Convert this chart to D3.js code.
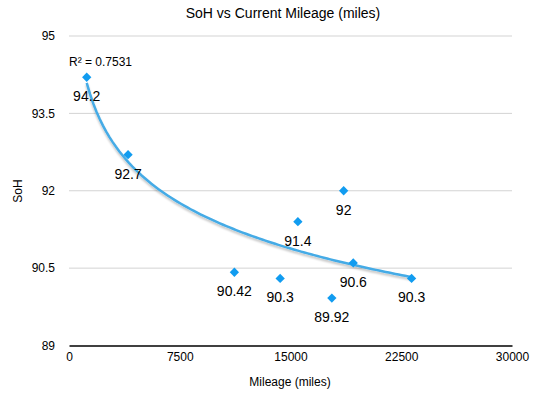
<!DOCTYPE html>
<html><head><meta charset="utf-8">
<script src="https://cdn.jsdelivr.net/npm/d3@7"></script>
<style>body{margin:0;background:#fff;} text{font-family:"Liberation Sans",Arial,Helvetica,sans-serif;}</style>
</head><body>
<svg id="c" width="553" height="408"></svg>
<script>
const mileage = [1200, 4000, 11200, 14300, 15500, 17800, 18600, 19250, 23200];
const soh     = [94.2, 92.7, 90.42, 90.3, 91.4, 89.92, 92, 90.6, 90.3];
const labels  = ["94.2","92.7","90.42","90.3","91.4","89.92","92","90.6","90.3"];
const xTicks = [0, 7500, 15000, 22500, 30000];
const yTicks = [89, 90.5, 92, 93.5, 95];
const r2Text = "R\u00B2 = 0.7531";

const svg = d3.select("#c");
const x = d3.scaleLinear().domain([0, 30000]).range([69, 512]);
const y = d3.scaleLinear().domain([89, 95]).range([345.5, 36]);

// grid
svg.append("g").selectAll("line").data(yTicks.filter(t => t !== 89)).join("line")
  .attr("x1", x(0)).attr("x2", x(30000))
  .attr("y1", d => y(d)).attr("y2", d => y(d))
  .attr("stroke", "#d3d3d3").attr("stroke-width", 1);

// x axis
const xAxis = d3.axisBottom(x).tickValues(xTicks).tickSize(0).tickPadding(7).tickFormat(d => String(d));
const gx = svg.append("g").attr("transform", `translate(0,${y(89)})`).call(xAxis);
gx.select(".domain").attr("stroke", "#000").attr("stroke-width", 1.5);
gx.selectAll("text").attr("font-size", 12).attr("fill", "#000")
  .attr("font-family", "Liberation Sans, Arial, sans-serif");

// y axis
const yAxis = d3.axisLeft(y).tickValues(yTicks).tickSize(0).tickPadding(14).tickFormat(d => String(d));
const gy = svg.append("g").attr("transform", `translate(${x(0)},0)`).call(yAxis);
gy.select(".domain").remove();
gy.selectAll("text").attr("font-size", 12).attr("fill", "#000")
  .attr("font-family", "Liberation Sans, Arial, sans-serif");

// title & axis titles
svg.append("text").attr("x", 283).attr("y", 18).attr("text-anchor", "middle")
  .attr("font-size", 14).text("SoH vs Current Mileage (miles)");
svg.append("text").attr("x", 290).attr("y", 386).attr("text-anchor", "middle")
  .attr("font-size", 12).text("Mileage (miles)");
svg.append("text").attr("transform", "translate(22,191) rotate(-90)").attr("text-anchor", "middle")
  .attr("font-size", 12).text("SoH");

// logarithmic trendline (least squares on ln x)
const n = mileage.length;
const lx = mileage.map(Math.log);
const mx = d3.mean(lx), my = d3.mean(soh);
let sxy = 0, sxx = 0;
for (let i = 0; i < n; i++) { sxy += (lx[i]-mx)*(soh[i]-my); sxx += (lx[i]-mx)**2; }
const b = sxy / sxx, a = my - b*mx;
const xmin = d3.min(mileage), xmax = d3.max(mileage);
const trend = d3.range(0, 101).map(i => { const xv = xmin + (xmax-xmin)*i/100; return [xv, a + b*Math.log(xv)]; });
const line = d3.line().x(d => x(d[0])).y(d => y(d[1])).curve(d3.curveLinear);

const defs = svg.append("defs");
const f = defs.append("filter").attr("id", "sh").attr("x", "-10%").attr("y", "-10%").attr("width", "120%").attr("height", "130%");
f.append("feGaussianBlur").attr("in", "SourceAlpha").attr("stdDeviation", 1.2).attr("result", "b");
f.append("feOffset").attr("in", "b").attr("dx", 0).attr("dy", 2).attr("result", "o");
f.append("feComponentTransfer").attr("in", "o").attr("result", "o2")
  .append("feFuncA").attr("type", "linear").attr("slope", 0.25);
const fm = f.append("feMerge");
fm.append("feMergeNode").attr("in", "o2");
fm.append("feMergeNode").attr("in", "SourceGraphic");

svg.append("path").datum(trend).attr("d", line).attr("fill", "none")
  .attr("stroke", "#45abe6").attr("stroke-width", 2.5).attr("filter", "url(#sh)");

svg.append("text").attr("x", 69).attr("y", 66).attr("font-size", 12).text(r2Text);

// points
const pts = mileage.map((m, i) => ({m, s: soh[i], l: labels[i]}));
svg.append("g").selectAll("path").data(pts).join("path")
  .attr("d", d3.symbol().type(d3.symbolDiamond2).size(55))
  .attr("transform", d => `translate(${x(d.m)},${y(d.s)})`)
  .attr("fill", "#119cf0");

svg.append("g").selectAll("text").data(pts).join("text")
  .attr("x", d => x(d.m)).attr("y", d => y(d.s) + 24)
  .attr("text-anchor", "middle").attr("font-size", 14).attr("fill", "#000")
  .text(d => d.l);
</script>
</body></html>
